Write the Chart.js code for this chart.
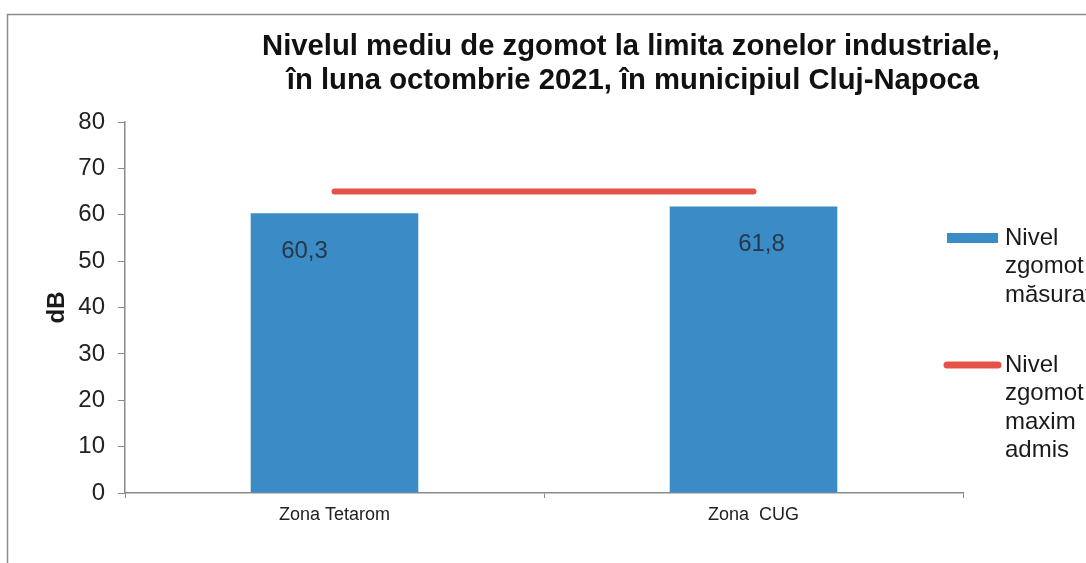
<!DOCTYPE html>
<html>
<head>
<meta charset="utf-8">
<script src="https://cdn.jsdelivr.net/npm/chart.js@4.4.1/dist/chart.umd.min.js"></script>
<style>
  html, body { margin: 0; padding: 0; background: #fff; }
</style>
</head>
<body>
<canvas id="zgomot" width="1086" height="563"></canvas>
<script>
// date
var zone = ['Zona Tetarom', 'Zona  CUG'];
var nivelMasurat = [60.3, 61.8];
var nivelMaximAdmis = [65, 65];
var serii = ['Nivel zgomot măsurat', 'Nivel zgomot maxim admis'];
var titlu = ['Nivelul mediu de zgomot la limita zonelor industriale,', 'în luna octombrie 2021, în municipiul Cluj-Napoca'];
var axaMin = 0, axaMax = 80, pas = 10;

var fontSans = '"Liberation Sans", Arial, sans-serif';
var fontTitlu = '"Liberation Sans Narrow", "Arial Narrow", "Liberation Sans", Arial, sans-serif';
var albastru = '#3b8bc6';
var rosu = '#e5524a';

// titlu, etichete de valoare, legenda si rama graficului
var deseneSuplimentare = {
  id: 'deseneSuplimentare',
  afterDraw: function(chart) {
    var ctx = chart.ctx;
    ctx.save();

    // rama
    ctx.strokeStyle = '#8c8c8c';
    ctx.lineWidth = 1.5;
    ctx.beginPath();
    ctx.moveTo(7.5, 563);
    ctx.lineTo(7.5, 14.5);
    ctx.lineTo(1086, 14.5);
    ctx.stroke();

    // titlu, usor ingustat pe orizontala
    ctx.save();
    ctx.fillStyle = '#111';
    ctx.font = 'bold 30px ' + fontTitlu;
    ctx.textAlign = 'center';
    ctx.textBaseline = 'middle';
    ctx.translate(631, 0);
    ctx.scale(0.975, 1);
    ctx.fillText(titlu[0], 0, 47);
    ctx.fillText(titlu[1], 2, 81);
    ctx.restore();

    // valorile din bare
    var meta = chart.getDatasetMeta(0);
    var decalaj = [-30, 8];
    ctx.font = '24px ' + fontSans;
    ctx.fillStyle = '#27384a';
    ctx.textAlign = 'center';
    ctx.textBaseline = 'middle';
    meta.data.forEach(function(bara, i) {
      var v = chart.data.datasets[0].data[i];
      ctx.fillText(v.toFixed(1).replace('.', ','), bara.x + decalaj[i], bara.y + 38);
    });

    // legenda
    var sus = [238, 365];
    ctx.textAlign = 'left';
    chart.data.datasets.forEach(function(ds, i) {
      var y = sus[i];
      if (ds.type === 'bar') {
        ctx.fillStyle = ds.backgroundColor;
        ctx.fillRect(947, y - 5, 51, 10);
      } else {
        ctx.strokeStyle = ds.borderColor;
        ctx.lineWidth = 7;
        ctx.lineCap = 'round';
        ctx.beginPath();
        ctx.moveTo(947, y);
        ctx.lineTo(998, y);
        ctx.stroke();
      }
      ctx.fillStyle = '#1a1a1a';
      ds.label.split(' ').forEach(function(cuvant, j) {
        ctx.fillText(cuvant, 1005, y + j * 28.5);
      });
    });

    ctx.restore();
  }
};

new Chart(document.getElementById('zgomot'), {
  data: {
    labels: zone,
    datasets: [
      {
        type: 'bar',
        label: serii[0],
        data: nivelMasurat,
        backgroundColor: albastru,
        barPercentage: 0.5,
        categoryPercentage: 0.8,
        order: 2
      },
      {
        type: 'line',
        label: serii[1],
        data: nivelMaximAdmis,
        borderColor: rosu,
        borderWidth: 6,
        borderCapStyle: 'round',
        pointRadius: 0,
        fill: false,
        order: 1
      }
    ]
  },
  options: {
    responsive: false,
    animation: false,
    layout: { padding: { top: 122, right: 123, left: 0, bottom: 0 } },
    plugins: {
      legend: { display: false },
      title: { display: false },
      tooltip: { enabled: false }
    },
    scales: {
      x: {
        grid: { display: true, drawOnChartArea: false, drawTicks: true, tickLength: 5, color: '#8a8a8a', offset: true },
        border: { color: '#8a8a8a', width: 1.5 },
        ticks: { font: { family: fontSans, size: 18 }, color: '#222', padding: 6 },
        afterFit: function(s) { s.height = 70; }
      },
      y: {
        min: axaMin,
        max: axaMax,
        ticks: { stepSize: pas, font: { family: fontSans, size: 24 }, color: '#222', padding: 13 },
        grid: { drawOnChartArea: false, tickLength: 7, color: '#8a8a8a' },
        border: { color: '#8a8a8a', width: 1.5 },
        title: {
          display: true,
          text: 'dB',
          font: { family: fontSans, size: 24, weight: 'bold' },
          color: '#1a1a1a',
          padding: { top: 43 }
        },
        afterFit: function(s) { s.width = 125; }
      }
    }
  },
  plugins: [deseneSuplimentare]
});
</script>
</body>
</html>
